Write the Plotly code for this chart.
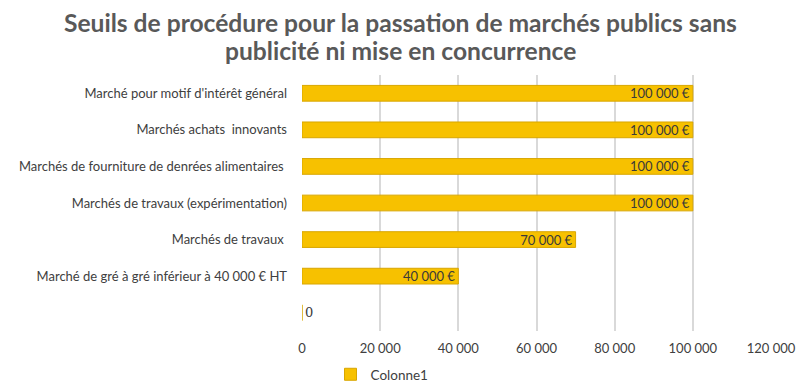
import plotly.graph_objects as go

categories = [
    "Marché pour motif d'intérêt général",
    "Marchés achats  innovants",
    "Marchés de fourniture de denrées alimentaires ",
    "Marchés de travaux (expérimentation)",
    "Marchés de travaux ",
    "Marché de gré à gré inférieur à 40 000 € HT",
    " ",
]
values = [100000, 100000, 100000, 100000, 70000, 40000, 0]
value_labels = ["100 000 €", "100 000 €", "100 000 €", "100 000 €", "70 000 €", "40 000 €", "0"]
tick_vals = [0, 20000, 40000, 60000, 80000, 100000, 120000]
tick_text = ["0", "20 000", "40 000", "60 000", "80 000", "100 000", "120 000"]
series_name = "Colonne1"
title_lines = ["Seuils de procédure pour la passation de marchés publics sans",
               "publicité ni mise en concurrence"]

font = "Lato, 'Open Sans', sans-serif"
positions = ["outside" if v == 0 else "inside" for v in values]

L, R, T, B = 302, 29, 75, 61
W, H = 800, 392
pw = W - L - R
ph = H - T - B

def px_x(x):
    return (x - L) / pw

def px_y(y):
    return (H - B - y) / ph

fig = go.Figure()
fig.add_trace(go.Bar(
    x=values, y=categories, orientation="h", name=series_name,
    marker=dict(color="#F7C100", line=dict(color="#D8A600", width=1)),
    text=value_labels, textposition=positions, insidetextanchor="end",
    constraintext="none",
    textfont=dict(family=font, size=13, color="#3a3a3a"),
    outsidetextfont=dict(family="DejaVu Serif, serif", size=12, color="#3a3a3a"),
    cliponaxis=False, showlegend=True,
))

for i, line in enumerate(title_lines):
    fig.add_annotation(
        text=line, xref="paper", yref="paper",
        x=px_x(400), y=px_y(22 + 28 * i), xanchor="center", yanchor="middle",
        showarrow=False, align="center",
        font=dict(family=font, size=24.6, color="#595959", weight="bold"),
    )

fig.update_layout(
    width=W, height=H,
    margin=dict(l=L, r=R, t=T, b=B, autoexpand=False),
    paper_bgcolor="white", plot_bgcolor="white",
    bargap=0.57,
    uniformtext=dict(minsize=13, mode="show"),
    font=dict(family=font, size=13, color="#404040"),
    xaxis=dict(
        range=[0, 120000], tickvals=tick_vals, ticktext=tick_text,
        showgrid=True, gridcolor="#D9D9D9", gridwidth=1.5, zeroline=False,
        showline=False, ticks="", tickfont=dict(size=13, color="#404040"),
        ticklabelstandoff=8, automargin=False,
    ),
    yaxis=dict(
        categoryorder="array", categoryarray=categories, autorange="reversed",
        showgrid=False, showline=False, ticks="", ticklabelstandoff=14,
        tickfont=dict(size=13, color="#404040"), automargin=False,
    ),
    legend=dict(
        orientation="h", x=px_x(382), xanchor="center", y=px_y(359),
        yanchor="top", font=dict(size=13.5, color="#404040"),
        itemwidth=30,
    ),
)

fig.write_html("out.html", post_script="document.body.style.margin='0';",
               config={"displayModeBar": False})
